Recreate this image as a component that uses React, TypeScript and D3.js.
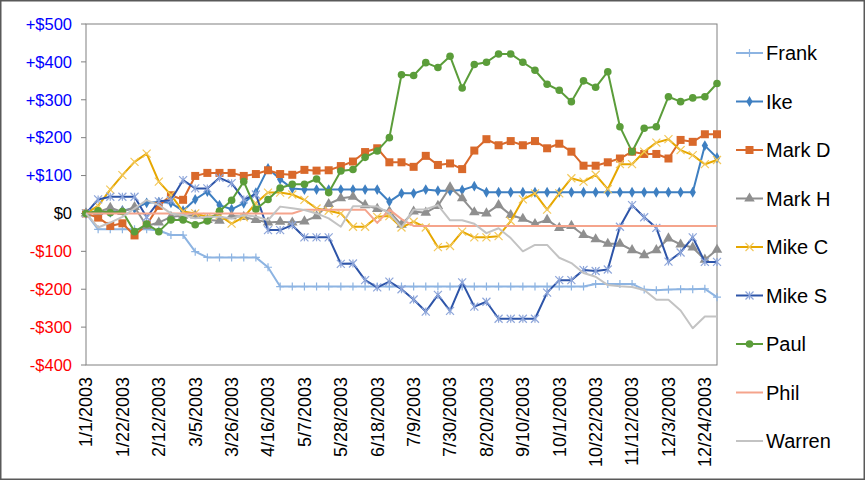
import React from "react";
import * as d3 from "d3";

const dates: string[] = [
  "1/1/2003","1/8/2003","1/15/2003","1/22/2003","1/29/2003","2/5/2003","2/12/2003","2/19/2003","2/26/2003",
  "3/5/2003","3/12/2003","3/19/2003","3/26/2003","4/2/2003","4/9/2003","4/16/2003","4/23/2003","4/30/2003",
  "5/7/2003","5/14/2003","5/21/2003","5/28/2003","6/4/2003","6/11/2003","6/18/2003","6/25/2003","7/2/2003",
  "7/9/2003","7/16/2003","7/23/2003","7/30/2003","8/6/2003","8/13/2003","8/20/2003","8/27/2003","9/3/2003",
  "9/10/2003","9/17/2003","9/24/2003","10/1/2003","10/8/2003","10/15/2003","10/22/2003","10/29/2003","11/5/2003",
  "11/12/2003","11/19/2003","11/26/2003","12/3/2003","12/10/2003","12/17/2003","12/24/2003","12/31/2003"
];

const tickLabels: string[] = [
  "1/1/2003","1/22/2003","2/12/2003","3/5/2003","3/26/2003","4/16/2003","5/7/2003","5/28/2003","6/18/2003",
  "7/9/2003","7/30/2003","8/20/2003","9/10/2003","10/1/2003","10/22/2003","11/12/2003","12/3/2003","12/24/2003"
];

const yTicks: number[] = [500, 400, 300, 200, 100, 0, -100, -200, -300, -400];

const frank: number[] = [0,-42,-42,-42,-42,-42,-45,-57,-57,-101,-116,-116,-116,-116,-116,-142,-193,-193,-193,-193,-193,-193,-193,-193,-193,-193,-193,-193,-193,-193,-193,-193,-193,-193,-193,-193,-193,-193,-193,-193,-193,-193,-186,-186,-186,-186,-201,-203,-201,-200,-200,-199,-221];
const ike: number[] = [0,5,3,8,13,28,30,28,7,37,58,22,11,27,55,119,90,66,63,63,63,63,63,63,63,31,53,53,63,60,60,62,72,56,56,56,56,56,56,56,56,56,56,56,56,56,56,56,56,56,56,179,147];
const markD: number[] = [0,-11,-33,-26,-58,-30,20,48,36,99,107,107,107,99,104,114,104,102,115,113,114,125,137,162,172,135,135,123,152,128,132,117,166,196,180,191,180,191,172,184,163,126,126,135,145,163,157,157,145,194,189,209,209];
const markH: number[] = [0,4,15,4,17,-33,-24,-9,-6,-5,-17,-19,-7,-9,-17,-24,-22,-24,-21,-7,25,40,44,22,12,5,-30,5,2,20,69,40,3,0,22,-4,-14,-28,-17,-38,-33,-57,-68,-80,-80,-97,-110,-97,-66,-82,-90,-122,-96];
const mikeC: number[] = [0,20,63,101,136,158,84,49,5,0,-9,-5,-27,-10,27,55,55,50,36,13,7,0,-35,-35,-9,-7,-37,-22,-37,-89,-86,-48,-63,-63,-60,-20,37,53,10,53,93,84,102,64,130,130,163,187,196,167,154,130,141];
const mikeS: number[] = [0,37,44,44,44,-10,32,35,88,66,66,94,80,37,50,-44,-44,-31,-63,-63,-63,-133,-132,-176,-195,-180,-200,-227,-259,-215,-257,-182,-246,-233,-278,-278,-278,-278,-209,-176,-176,-149,-152,-148,-35,22,-10,-38,-127,-103,-63,-128,-128];
const paul: number[] = [0,7,2,5,-48,-28,-48,-17,-17,-30,-20,6,35,84,11,37,67,77,77,91,55,112,116,148,165,200,366,364,398,385,415,331,393,399,421,421,399,378,341,325,295,350,333,374,229,163,225,229,308,295,305,308,343];
const phil: number[] = [0,0,0,0,0,0,0,0,0,0,0,0,0,0,0,0,0,0,10,10,10,10,10,10,-25,10,-15,-33,-33,-33,-33,-33,-33,-33,-33,-33,-33,-33,-33,-33,-33,-33,-33,-33,-33,-33,-33,-33,-33,-33,-33,-33,-33];
const warren: number[] = [0,-37,-24,-9,13,35,22,0,-4,-13,-9,-9,-13,-5,-8,-18,18,14,9,0,-13,-35,19,19,18,1,-37,10,11,22,-18,-18,-27,-52,-39,-65,-100,-83,-83,-117,-131,-157,-167,-189,-192,-194,-202,-228,-228,-256,-303,-272,-272];

const seriesNames: string[] = ["Frank","Ike","Mark D","Mark H","Mike C","Mike S","Paul","Phil","Warren"];
const seriesValues: number[][] = [frank, ike, markD, markH, mikeC, mikeS, paul, phil, warren];

type Style = { color: string; marker: string; markerColor: string };
const styles: Style[] = [
  { color: "#8DB4E2", marker: "plus", markerColor: "#8DB4E2" },
  { color: "#3E7FC1", marker: "diamond", markerColor: "#3E7FC1" },
  { color: "#D9692B", marker: "square", markerColor: "#D9692B" },
  { color: "#8F8F8F", marker: "triangle", markerColor: "#8F8F8F" },
  { color: "#E6A700", marker: "x", markerColor: "#F3C85A" },
  { color: "#2D54A8", marker: "star", markerColor: "#8EA6DA" },
  { color: "#5B9D3A", marker: "circle", markerColor: "#5B9D3A" },
  { color: "#F5A48C", marker: "none", markerColor: "#F5A48C" },
  { color: "#C3C3C3", marker: "none", markerColor: "#C3C3C3" },
];

const FONT = "'Liberation Sans', Arial, Helvetica, sans-serif";

function Marker({ kind, x, y, color }: { kind: string; x: number; y: number; color: string }) {
  const r = 4;
  switch (kind) {
    case "plus":
      return <path d={`M${x - r},${y}H${x + r}M${x},${y - r}V${y + r}`} stroke={color} strokeWidth={1.2} fill="none" />;
    case "x":
      return <path d={`M${x - r},${y - r}L${x + r},${y + r}M${x - r},${y + r}L${x + r},${y - r}`} stroke={color} strokeWidth={1.2} fill="none" />;
    case "star":
      return <path d={`M${x - r},${y - r}L${x + r},${y + r}M${x - r},${y + r}L${x + r},${y - r}M${x},${y - r}V${y + r}`} stroke={color} strokeWidth={1.2} fill="none" />;
    case "diamond":
      return <path d={d3.symbol(d3.symbolDiamond, 34)() as string} transform={`translate(${x},${y})`} fill={color} />;
    case "square":
      return <rect x={x - 4} y={y - 4} width={8} height={8} fill={color} />;
    case "triangle":
      return <path d={d3.symbol(d3.symbolTriangle, 48)() as string} transform={`translate(${x},${y})`} fill={color} />;
    case "circle":
      return <circle cx={x} cy={y} r={3.8} fill={color} />;
    default:
      return null;
  }
}

export default function App() {
  const W = 865, H = 480;
  const left = 86, right = 717, top = 24, bottom = 365;

  const x = d3.scalePoint<string>().domain(dates).range([left, right]).padding(0);
  const y = d3.scaleLinear().domain([-400, 500]).range([bottom, top]);

  const line = d3.line<number>().x((_, i) => x(dates[i]) as number).y((d) => y(d));

  const fmt = (v: number) => (v > 0 ? `+$${v}` : v === 0 ? "$0" : `-$${Math.abs(v)}`);
  const yColor = (v: number) => (v > 0 ? "#0000FF" : v === 0 ? "#000000" : "#FF0000");

  const legendTop = 53, legendStep = 48.5;

  return (
    <svg width={W} height={H} style={{ position: "absolute", left: 0, top: 0, background: "#fff" }} fontFamily={FONT}>
      <rect x={0.75} y={0.75} width={W - 1.5} height={H - 1.5} fill="#fff" stroke="#595959" strokeWidth={1.5} />
      <rect x={left} y={top} width={right - left} height={bottom - top} fill="none" stroke="#808080" strokeWidth={1} />
      {yTicks.map((v) => (
        <g key={v}>
          <line x1={left - 5} x2={left} y1={y(v)} y2={y(v)} stroke="#808080" />
          <text x={72} y={y(v)} dy="0.35em" textAnchor="end" fontSize={16.5} fill={yColor(v)}>
            {fmt(v)}
          </text>
        </g>
      ))}
      {tickLabels.map((t) => {
        const px = x(t) as number;
        return (
          <text key={t} transform={`translate(${px},${377}) rotate(-90)`} dy="0.35em" textAnchor="end" fontSize={18} fill="#000">
            {t}
          </text>
        );
      })}
      {seriesValues.map((vals, si) => (
        <g key={seriesNames[si]}>
          <path d={line(vals) as string} fill="none" stroke={styles[si].color} strokeWidth={2} strokeLinejoin="round" />
          {styles[si].marker !== "none" &&
            vals.map((v, i) => (
              <Marker key={i} kind={styles[si].marker} x={x(dates[i]) as number} y={y(v)} color={styles[si].markerColor} />
            ))}
        </g>
      ))}
      {seriesNames.map((n, si) => {
        const ly = legendTop + si * legendStep;
        return (
          <g key={n}>
            <line x1={736} x2={763} y1={ly} y2={ly} stroke={styles[si].color} strokeWidth={2} />
            <Marker kind={styles[si].marker} x={749.5} y={ly} color={styles[si].markerColor} />
            <text x={766} y={ly} dy="0.35em" fontSize={20} fill="#000">
              {n}
            </text>
          </g>
        );
      })}
    </svg>
  );
}
